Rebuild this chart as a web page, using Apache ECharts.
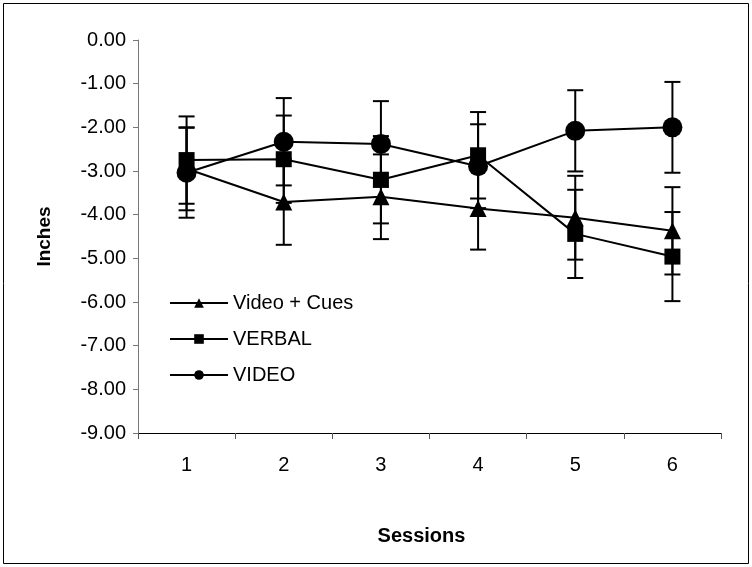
<!DOCTYPE html>
<html>
<head>
<meta charset="utf-8">
<script src="https://cdn.jsdelivr.net/npm/echarts@6/dist/echarts.min.js"></script>
<style>
html,body{margin:0;padding:0;background:#fff;}
#chart{width:752px;height:567px;}
</style>
</head>
<body>
<div id="chart"></div>
<script>
var sessions = ['1','2','3','4','5','6'];
var yTicks = [0,-1,-2,-3,-4,-5,-6,-7,-8,-9];
var videoCues = [-2.95, -3.71, -3.59, -3.86, -4.07, -4.37];
var videoCuesErr = [0.95, 0.98, 0.97, 0.94, 0.96, 1.00];
var verbal = [-2.75, -2.73, -3.20, -2.64, -4.44, -4.96];
var verbalErr = [1.00, 1.00, 1.00, 0.99, 1.01, 1.02];
var video = [-3.04, -2.33, -2.38, -2.89, -2.08, -2.00];
var videoErr = [1.03, 1.00, 0.98, 0.96, 0.93, 1.04];

function errData(vals, errs){
  return vals.map(function(v,i){ return [i, v-errs[i], v+errs[i]]; });
}
function errSeries(name, vals, errs){
  return {
    type:'custom', name: name+'_err', z:1, silent:true,
    data: errData(vals, errs),
    encode:{x:0, y:[1,2]},
    renderItem:function(params, api){
      var x = api.value(0);
      var lo = api.coord([x, api.value(1)]);
      var hi = api.coord([x, api.value(2)]);
      var hw = 8;
      var st = {stroke:'#000', lineWidth:2};
      return {type:'group', children:[
        {type:'line', shape:{x1:lo[0],y1:lo[1],x2:hi[0],y2:hi[1]}, style:st},
        {type:'line', shape:{x1:lo[0]-hw,y1:lo[1],x2:lo[0]+hw,y2:lo[1]}, style:st},
        {type:'line', shape:{x1:hi[0]-hw,y1:hi[1],x2:hi[0]+hw,y2:hi[1]}, style:st}
      ]};
    }
  };
}
function lineSeries(name, vals, symbol, size){
  return {
    type:'line', name:name, data:vals, z:3,
    symbol:symbol, symbolSize:size, showAllSymbol:true,
    lineStyle:{color:'#000', width:2},
    itemStyle:{color:'#000'},
    emphasis:{disabled:true}
  };
}
var chart = echarts.init(document.getElementById('chart'), null, {renderer:'canvas'});
var font = 'Liberation Sans, Arial, sans-serif';
chart.setOption({
  animation:false,
  backgroundColor:'#fff',
  textStyle:{fontFamily:font},
  graphic:[{type:'rect', shape:{x:3.5,y:3.5,width:745,height:560}, style:{fill:'none', stroke:'#000', lineWidth:1}, z:-1}],
  grid:{left:138, right:31, top:40, bottom:134},
  legend:{
    orient:'vertical', left:164, top:288, itemGap:16,
    itemWidth:58, itemHeight:12,
    textStyle:{fontSize:20, color:'#000', fontFamily:font},
    data:['Video + Cues','VERBAL','VIDEO']
  },
  xAxis:{
    type:'category', data:sessions, boundaryGap:true,
    name:'Sessions', nameLocation:'middle', nameGap:93,
    nameTextStyle:{fontSize:20, fontWeight:'bold', color:'#000', padding:[0,16,0,0]},
    axisLine:{onZero:false, lineStyle:{color:'#000', width:1}},
    axisTick:{show:true, alignWithLabel:false, length:6, lineStyle:{color:'#555'}},
    axisLabel:{fontSize:20, color:'#000', margin:22},
    splitLine:{show:false}
  },
  yAxis:{
    type:'value', min:yTicks[yTicks.length-1], max:yTicks[0], interval:1,
    name:'Inches', nameLocation:'middle', nameGap:84,
    nameTextStyle:{fontSize:19, fontWeight:'bold', color:'#000'},
    axisLine:{show:true, lineStyle:{color:'#777', width:1}},
    axisTick:{show:true, length:5, lineStyle:{color:'#777'}},
    axisLabel:{fontSize:20, color:'#000', margin:12, formatter:function(v){return v.toFixed(2);}},
    splitLine:{show:false}
  },
  series:[
    errSeries('Video + Cues', videoCues, videoCuesErr),
    errSeries('VERBAL', verbal, verbalErr),
    errSeries('VIDEO', video, videoErr),
    lineSeries('Video + Cues', videoCues, 'triangle', 17),
    lineSeries('VERBAL', verbal, 'rect', 16),
    lineSeries('VIDEO', video, 'circle', 20)
  ]
});
</script>
</body>
</html>
